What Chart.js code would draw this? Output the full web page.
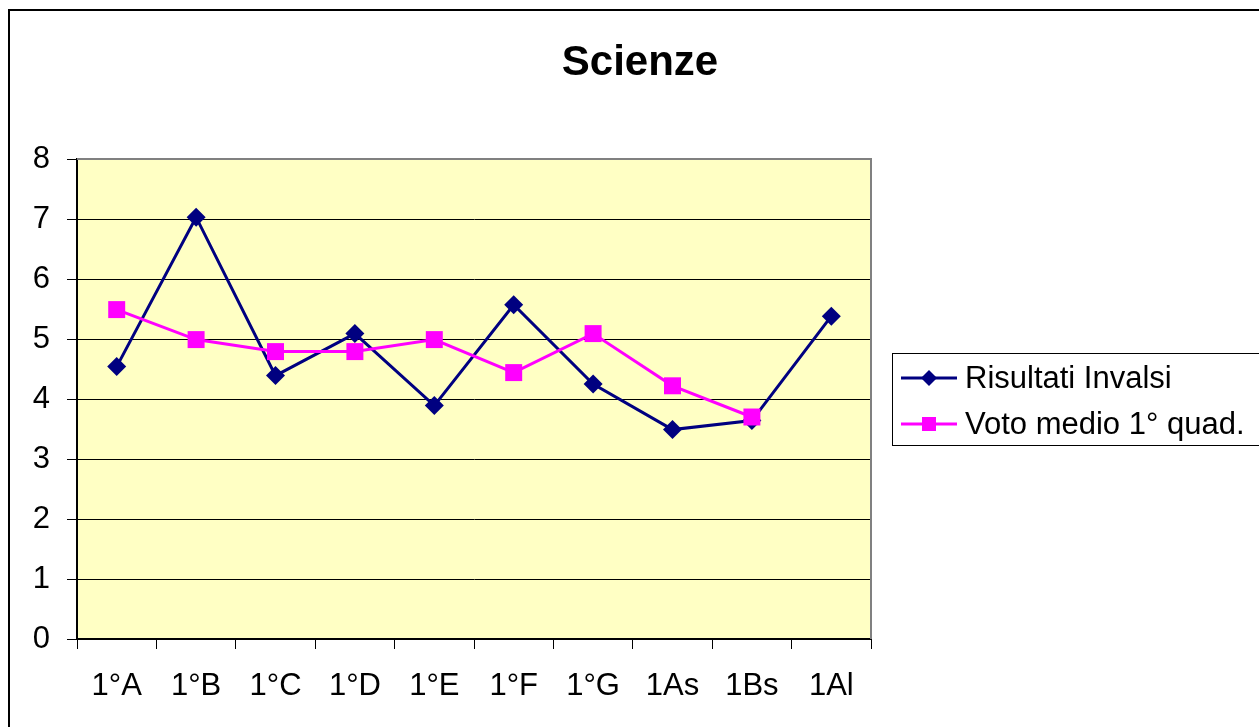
<!DOCTYPE html>
<html>
<head>
<meta charset="utf-8">
<script src="https://cdn.jsdelivr.net/npm/chart.js@4.4.1/dist/chart.umd.min.js"></script>
<style>
  html, body { margin: 0; padding: 0; background: #fff; }
  #wrap { width: 1259px; height: 727px; position: relative; }
</style>
</head>
<body>
<div id="wrap"><canvas id="chart" width="1259" height="727"></canvas></div>
<script>
const categories = ["1°A", "1°B", "1°C", "1°D", "1°E", "1°F", "1°G", "1As", "1Bs", "1Al"];
const invalsi = [4.54, 7.03, 4.39, 5.09, 3.89, 5.57, 4.25, 3.49, 3.64, 5.38];
const votoMedio = [5.49, 4.99, 4.79, 4.79, 4.99, 4.44, 5.09, 4.22, 3.70, null];
const yTicks = [0, 1, 2, 3, 4, 5, 6, 7, 8];

const FONT = "'Liberation Sans', Arial, sans-serif";
const NAVY = "#000080";
const MAGENTA = "#FF00FF";

// plot background, frame, outer border, title and legend
const decor = {
  id: "decor",
  beforeDraw(chart) {
    const ctx = chart.ctx;
    const a = chart.chartArea;
    ctx.save();
    ctx.fillStyle = "#fff";
    ctx.fillRect(0, 0, chart.width, chart.height);
    ctx.fillStyle = "#FFFFC4";
    ctx.fillRect(a.left, a.top, a.right - a.left, a.bottom - a.top);
    ctx.restore();
  },
  afterDraw(chart) {
    const ctx = chart.ctx;
    const a = chart.chartArea;
    ctx.save();
    // gray frame top / right
    ctx.strokeStyle = "#808080";
    ctx.lineWidth = 2;
    ctx.beginPath();
    ctx.moveTo(a.left, a.top);
    ctx.lineTo(a.right, a.top);
    ctx.lineTo(a.right, a.bottom);
    ctx.stroke();

    // outer chart border
    ctx.strokeStyle = "#000";
    ctx.lineWidth = 2;
    ctx.strokeRect(9, 10, 1300, 800);

    // title
    ctx.fillStyle = "#000";
    ctx.font = "bold 42px " + FONT;
    ctx.textAlign = "center";
    ctx.textBaseline = "middle";
    ctx.fillText("Scienze", 640, 63);

    // legend
    ctx.lineWidth = 1;
    ctx.strokeStyle = "#000";
    ctx.strokeRect(892.5, 353.5, 400, 92);
    const rows = [
      { label: chart.data.datasets[0].label, color: NAVY, style: "diamond", y: 378 },
      { label: chart.data.datasets[1].label, color: MAGENTA, style: "square", y: 424 }
    ];
    rows.forEach(r => {
      ctx.strokeStyle = r.color;
      ctx.lineWidth = 3;
      ctx.beginPath();
      ctx.moveTo(901, r.y);
      ctx.lineTo(957, r.y);
      ctx.stroke();
      ctx.fillStyle = r.color;
      ctx.beginPath();
      if (r.style === "diamond") {
        ctx.moveTo(929, r.y - 8);
        ctx.lineTo(937, r.y);
        ctx.lineTo(929, r.y + 8);
        ctx.lineTo(921, r.y);
        ctx.closePath();
      } else {
        ctx.rect(922, r.y - 7, 14, 14);
      }
      ctx.fill();
      ctx.fillStyle = "#000";
      ctx.font = "31px " + FONT;
      ctx.textAlign = "left";
      ctx.textBaseline = "middle";
      ctx.fillText(r.label, 965, r.y + 1);
    });
    ctx.restore();
  }
};

new Chart(document.getElementById("chart"), {
  type: "line",
  data: {
    labels: categories,
    datasets: [
      {
        label: "Risultati Invalsi",
        data: invalsi,
        borderColor: NAVY,
        backgroundColor: NAVY,
        borderWidth: 3,
        pointStyle: "rectRot",
        pointRadius: 9.5,
        pointBorderWidth: 0,
        tension: 0,
        order: 1
      },
      {
        label: "Voto medio 1° quad.",
        data: votoMedio,
        borderColor: MAGENTA,
        backgroundColor: MAGENTA,
        borderWidth: 3,
        pointStyle: "rect",
        pointRadius: 12,
        pointBorderWidth: 0,
        tension: 0,
        order: 0
      }
    ]
  },
  options: {
    responsive: false,
    animation: false,
    layout: { padding: { top: 159, left: 17, right: 388, bottom: 0 } },
    plugins: {
      legend: { display: false },
      title: { display: false },
      tooltip: { enabled: false }
    },
    scales: {
      x: {
        offset: true,
        afterFit(scale) { scale.height = 88; },
        grid: {
          offset: true,
          drawOnChartArea: false,
          drawTicks: true,
          tickLength: 10,
          color: "#000",
          tickWidth: 1
        },
        border: { display: true, color: "#000", width: 2 },
        ticks: {
          color: "#000",
          font: { family: FONT, size: 31 },
          padding: 19,
          maxRotation: 0,
          autoSkip: false
        }
      },
      y: {
        min: 0,
        max: 8,
        afterFit(scale) { scale.width = 60; },
        afterBuildTicks(scale) { scale.ticks = yTicks.map(v => ({ value: v })); },
        grid: {
          color: "#000",
          lineWidth: 1,
          drawTicks: true,
          tickLength: 10
        },
        border: { display: true, color: "#000", width: 2 },
        ticks: {
          color: "#000",
          font: { family: FONT, size: 31 },
          padding: 17
        }
      }
    }
  },
  plugins: [decor]
});
</script>
</body>
</html>
